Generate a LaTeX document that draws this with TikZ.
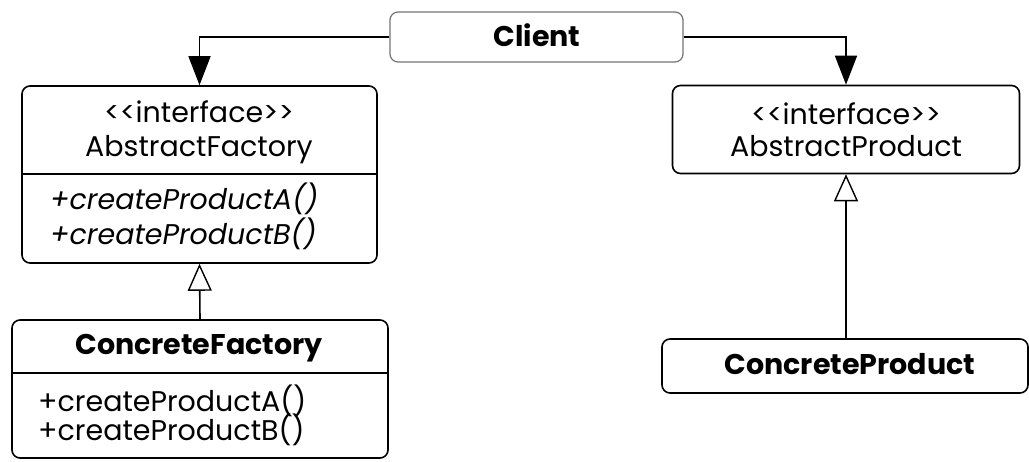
\documentclass[tikz,border=0pt]{standalone}
\usepackage{fontspec}
\setmainfont{Poppins}
\usetikzlibrary{arrows.meta}
\begin{document}
\begin{tikzpicture}[x=1pt,y=-1pt,
  box/.style={draw=black, line width=1.6pt, rounded corners=8pt, inner sep=0pt},
  faint/.style={draw=black!55, line width=1.2pt, rounded corners=8pt, inner sep=0pt},
  txt/.style={anchor=base, inner sep=0pt, font=\fontsize{28.5}{32}\selectfont},
  btxt/.style={anchor=base, inner sep=0pt, font=\fontsize{28.5}{32}\selectfont\bfseries},
  itxt/.style={anchor=base west, inner sep=0pt, font=\fontsize{28.5}{32}\selectfont\itshape},
  mtxt/.style={anchor=base west, inner sep=0pt, font=\fontsize{28.5}{32}\selectfont},
  assoc/.style={line width=1.6pt, -{Triangle[width=22pt,length=29pt]}},
  gen/.style={line width=1.6pt, -{Triangle[open,width=24pt,length=27pt,line width=1.4pt]}}]
\useasboundingbox (0,0) rectangle (1029,462);
% boxes
\node[faint, minimum width=293pt, minimum height=50pt] (client) at (536.5,37) {};
\node[box, minimum width=355pt, minimum height=177pt] (af) at (199.5,174.5) {};
\node[box, minimum width=347pt, minimum height=88pt] (ap) at (846,129.5) {};
\node[box, minimum width=376pt, minimum height=138pt] (cf) at (200,389) {};
\node[box, minimum width=366pt, minimum height=54pt] (cp) at (845,366) {};
% dividers
\draw[line width=1.6pt] (af.west |- 0,174) -- (af.east |- 0,174);
\draw[line width=1.6pt] (cf.west |- 0,373) -- (cf.east |- 0,373);
% texts
\node[btxt] (tclient) at (537,47) {Client};
\node[txt] (afst) at (199,123) {{<}{<}interface{>}{>}};
\node[txt] (afname) at (199,157) {AbstractFactory};
\node[itxt] (afma) at (50,210) {+createProductA()};
\node[itxt] (afmb) at (50,245) {+createProductB()};
\node[txt] (apst) at (846,125) {{<}{<}interface{>}{>}};
\node[txt] (apname) at (846,157) {AbstractProduct};
\node[btxt] (cfname) at (199,355) {ConcreteFactory};
\node[mtxt] (cfma) at (38,412) {+createProductA()};
\node[mtxt] (cfmb) at (38,441) {+createProductB()};
\node[btxt] (cpname) at (850,375) {ConcreteProduct};
% connectors
\draw[assoc] (client.west) -| (af.north);
\draw[assoc] (client.east) -| (ap.north);
\draw[gen] (cf.north) -- (af.south);
\draw[gen] (ap.south |- cp.north) -- (ap.south);
\end{tikzpicture}
\end{document}
